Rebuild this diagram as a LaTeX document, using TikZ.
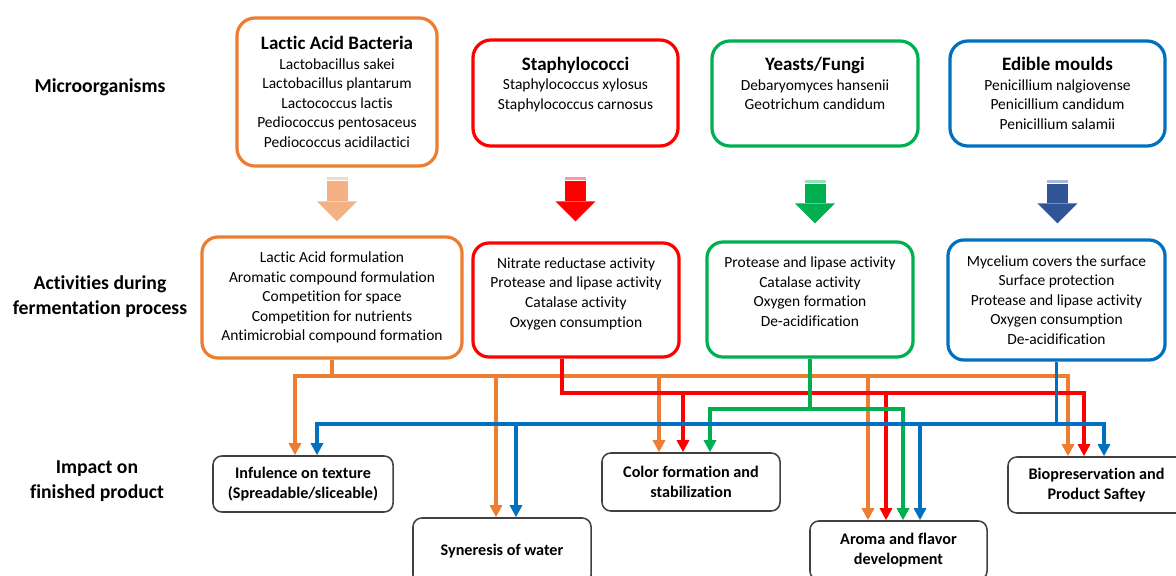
\documentclass[tikz,border=0pt]{standalone}
\usepackage{fontspec}
\setmainfont{Carlito}[Ligatures=NoCommon]
\usetikzlibrary{arrows.meta, positioning}

\definecolor{corange}{HTML}{ED7D31}
\definecolor{cred}{HTML}{FF0000}
\definecolor{cgreen}{HTML}{00B050}
\definecolor{cblue}{HTML}{0070C0}
\definecolor{cpeach}{HTML}{F4B183}
\definecolor{cnavy}{HTML}{2F5597}
\definecolor{cgray}{HTML}{404040}
\newcommand{\hdfont}{\fontsize{13.5}{17}\selectfont\bfseries}

\begin{document}
\begin{tikzpicture}[
    x=0.025cm, y=-0.025cm,
    mo/.style={rectangle, draw, rounded corners=0.45cm, line width=2.3pt, align=center, inner sep=0pt, font=\fontsize{11}{13.9}\selectfont},
    im/.style={rectangle, draw=cgray, rounded corners=0.22cm, line width=1.1pt, align=center, inner sep=0pt, font=\fontsize{11.5}{14.2}\selectfont\bfseries},
    lbl/.style={align=center, font=\fontsize{14}{17.8}\selectfont\bfseries},
    blk/.style={line width=0.525cm, -{Triangle[width=1cm, length=0.5cm, line width=0pt]}},
    a/.style={line width=2.5pt, -{Triangle[width=0.3cm, length=0.3cm]}},
]
\useasboundingbox (0,0) rectangle (1176,576);
\clip (0,0) rectangle (1176,576);

% row labels
\node[lbl] (lmic) at (100,87) {Microorganisms};
\node[lbl] (lact) at (100,297) {Activities during\\fermentation process};
\node[lbl] (limp) at (97,481) {Impact on\\finished product};

% microorganisms
\node[mo, draw=corange, minimum width=5cm, minimum height=3.7cm] (lab) at (337,92) {{\hdfont Lactic Acid Bacteria}\\Lactobacillus sakei\\Lactobacillus plantarum\\Lactococcus lactis\\Pediococcus pentosaceus\\Pediococcus acidilactici};
\node[mo, draw=cred, minimum width=5.125cm, minimum height=2.65cm] (sta) at (575.5,93) {{\hdfont Staphylococci}\\Staphylococcus xylosus\\Staphylococcus carnosus\\\mbox{}};
\node[mo, draw=cgreen, minimum width=5.15cm, minimum height=2.625cm] (yea) at (815,93.5) {{\hdfont Yeasts/Fungi}\\Debaryomyces hansenii\\Geotrichum candidum\\\mbox{}};
\node[mo, draw=cblue, minimum width=5.375cm, minimum height=2.625cm] (mou) at (1057.5,93.5) {{\hdfont Edible moulds}\\Penicillium nalgiovense\\Penicillium candidum\\Penicillium salamii};

% activities
\node[mo, draw=corange, rounded corners=0.4cm, minimum width=6.5cm, minimum height=3.025cm] (lat) at (332,297.5) {Lactic Acid formulation\\Aromatic compound formulation\\Competition for space\\Competition for nutrients\\Antimicrobial compound formation};
\node[mo, draw=cred, rounded corners=0.4cm, minimum width=5.15cm, minimum height=2.85cm] (sat) at (576,300) {Nitrate reductase activity\\Protease and lipase activity\\Catalase activity\\Oxygen consumption\\[-3pt]\mbox{}};
\node[mo, draw=cgreen, rounded corners=0.4cm, minimum width=5.15cm, minimum height=2.875cm] (yat) at (810,299.5) {Protease and lipase activity\\Catalase activity\\Oxygen formation\\De-acidification\\[-3pt]\mbox{}};
\node[mo, draw=cblue, rounded corners=0.4cm, minimum width=5.425cm, minimum height=3cm] (mat) at (1056.5,300) {Mycelium covers the surface\\Surface protection\\Protease and lipase activity\\Oxygen consumption\\De-acidification};

% impact
\node[im, minimum width=4.5cm, minimum height=1.4cm] (tex) at (303,484) {Infulence on texture\\(Spreadable/sliceable)};
\node[im, minimum width=4.45cm, minimum height=1.65cm] (syn) at (502,551) {Syneresis of water};
\node[im, minimum width=4.45cm, minimum height=1.45cm] (col) at (691,482) {Color formation and\\stabilization};
\node[im, minimum width=4.425cm, minimum height=1.475cm] (aro) at (898.5,550.5) {Aroma and flavor\\development};
\node[im, minimum width=4.425cm, minimum height=1.4cm] (bio) at (1096.5,485) {Biopreservation and\\Product Saftey};

% block arrows
\fill[cpeach!50] ([shift={(-10.5,9)}]lab.south) rectangle ++(21,3);
\draw[blk, cpeach, shorten <=0.325cm, shorten >=0.35cm] (lab.south) -- (lab.south |- lat.north);
\fill[cred!40] ([shift={(-10.5,29)}]sta.south) rectangle ++(21,3);
\draw[blk, cred, shorten <=0.825cm, shorten >=0.5cm] (sta.south) -- (sta.south |- sat.north);
\fill[cgreen!40] ([shift={(-10.5,32)}]yea.south) rectangle ++(21,3);
\draw[blk, cgreen, shorten <=0.9cm, shorten >=0.425cm] (yea.south) -- (yea.south |- yat.north);
\fill[cnavy!40] ([shift={(-10.5,32)}]mou.south) rectangle ++(21,3);
\draw[blk, cnavy, shorten <=0.9cm, shorten >=0.375cm] (mou.south) -- (mou.south |- mat.north);

% bus points
\coordinate (ot) at (295,376);
\coordinate (os) at (496,376);
\coordinate (oc) at (659,376);
\coordinate (oa) at (868,376);
\coordinate (ob) at (1068,376);
\coordinate (rt) at (562,393);
\coordinate (rc) at (683,393);
\coordinate (ra) at (886,393);
\coordinate (rb) at (1084,393);
\coordinate (gc) at (710,409);
\coordinate (ga) at (903,409);
\coordinate (bt) at (317,424);
\coordinate (bs) at (516,424);
\coordinate (ba) at (920,424);
\coordinate (bb) at (1104,424);

% lactic acid bacteria
\draw[a, corange] (lat.south) |- (ot) -- (ot |- tex.north);
\draw[a, corange] (lat.south) |- (os) -- (os |- syn.north);
\draw[a, corange] (lat.south) |- (oc) -- (oc |- col.north);
\draw[a, corange] (lat.south) |- (oa) -- (oa |- aro.north);
\draw[a, corange] (lat.south) |- (ob) -- (ob |- bio.north);
% staphylococci
\draw[a, cred] (rt |- sat.south) -- (rt) -| (rc |- col.north);
\draw[a, cred] (rt |- sat.south) -- (rt) -| (ra |- aro.north);
\draw[a, cred] (rt |- sat.south) -- (rt) -| (rb |- bio.north);
% yeasts
\draw[a, cgreen] (yat.south) |- (gc) -- (gc |- col.north);
\draw[a, cgreen] (yat.south) |- (ga) -- (ga |- aro.north);
% moulds
\draw[a, cblue] (mat.south) |- (bt) -- (bt |- tex.north);
\draw[a, cblue] (mat.south) |- (bs) -- (bs |- syn.north);
\draw[a, cblue] (mat.south) |- (ba) -- (ba |- aro.north);
\draw[a, cblue] (mat.south) |- (bb) -- (bb |- bio.north);
\end{tikzpicture}
\end{document}
